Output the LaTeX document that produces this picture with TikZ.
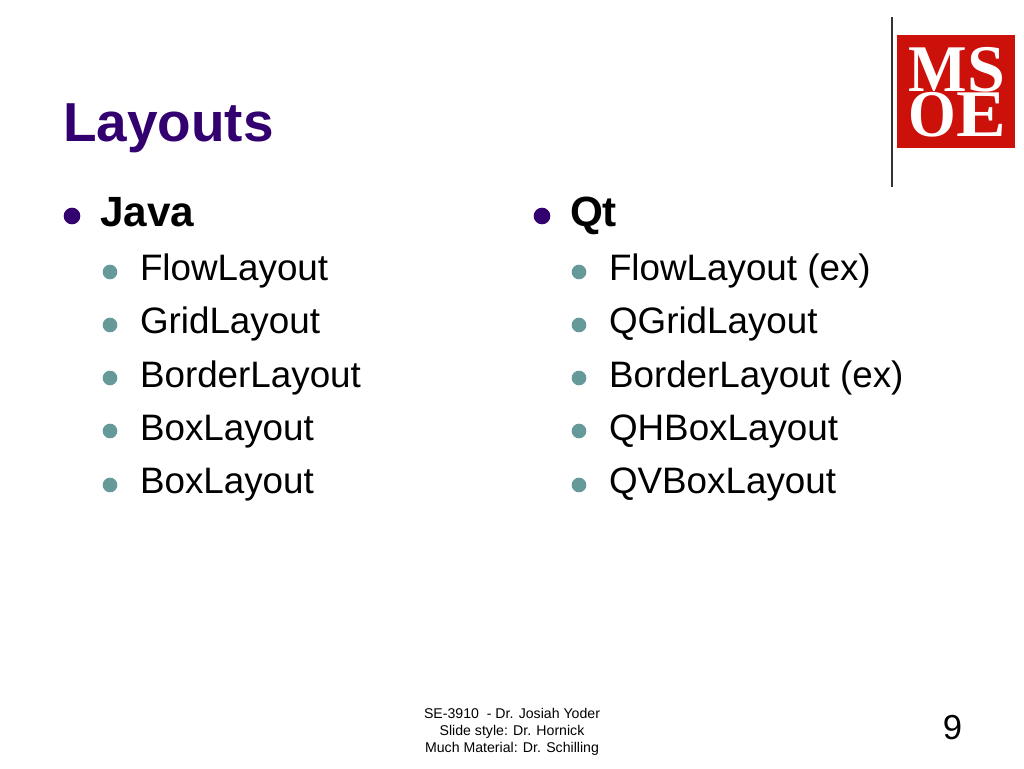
\documentclass[tikz,border=0pt]{standalone}
\usepackage{fontspec}
\setmainfont{Liberation Sans}
\newfontfamily\logofont{Liberation Serif}
\definecolor{titlepurple}{RGB}{51,0,112}
\definecolor{subteal}{RGB}{102,153,153}
\definecolor{msoered}{RGB}{204,16,10}
\tikzset{
  txt/.style={anchor=base west,inner sep=0pt,outer sep=0pt},
  titletext/.style={txt,font=\bfseries\fontsize{41.2}{41.2}\selectfont,text=titlepurple},
  headtext/.style={txt,font=\bfseries\fontsize{31.7}{31.7}\selectfont,text=black},
  subtext/.style={txt,font=\fontsize{27.6}{27.6}\selectfont,text=black},
  headdot/.style={circle,fill=titlepurple,draw=none,minimum size=12.5pt,inner sep=0pt},
  subdot/.style={circle,fill=subteal,draw=none,minimum size=11pt,inner sep=0pt},
  foot/.style={anchor=base,inner sep=0pt,font=\fontsize{10.6}{10.6}\selectfont,text=black},
  logotext/.style={anchor=base,inner sep=0pt,text=white,font=\logofont\bfseries\fontsize{50}{50}\selectfont}
}
\begin{document}
\begin{tikzpicture}[x=0.75pt,y=-0.75pt]
\useasboundingbox (0,0) rectangle (1024,768);
\fill[white] (0,0) rectangle (1024,768);
\node[titletext] (title) at (63,141) {Layouts};
\coordinate (ruletop) at (892,17);
\coordinate (rulebot) at (892,187);
\draw[line width=0.9pt,black!80] (ruletop) -- (rulebot);
\node[fill=msoered,minimum width=88.5pt,minimum height=84.75pt,inner sep=0pt,anchor=north west] (logo) at (897,35) {};
\node[logotext,xscale=0.93] (logoM) at (937.5,91) {M};
\node[logotext,xscale=1.02] (logoS) at (986,91) {S};
\node[logotext,xscale=0.92] (logoO) at (932,136.5) {O};
\node[logotext,xscale=1.12] (logoE) at (981.5,136.5) {E};
% left column
\node[headdot] (d1) at (72,216) {};
\node[headtext] (java) at (100,226) {Java};
\node[subdot] (d11) at (110,272) {};
\node[subtext] (a1) at (140,280) {FlowLayout};
\node[subdot] (d12) at (110,325) {};
\node[subtext] (a2) at (140,333) {GridLayout};
\node[subdot] (d13) at (110,378) {};
\node[subtext] (a3) at (140,387) {BorderLayout};
\node[subdot] (d14) at (110,431) {};
\node[subtext] (a4) at (140,440) {BoxLayout};
\node[subdot] (d15) at (110,485) {};
\node[subtext] (a5) at (140,493) {BoxLayout};
% right column
\node[headdot] (d2) at (542,216) {};
\node[headtext] (qt) at (570,226) {Qt};
\node[subdot] (d21) at (579,272) {};
\node[subtext] (b1) at (609,280) {FlowLayout (ex)};
\node[subdot] (d22) at (579,325) {};
\node[subtext] (b2) at (609,333) {QGridLayout};
\node[subdot] (d23) at (579,378) {};
\node[subtext] (b3) at (609,387) {BorderLayout (ex)};
\node[subdot] (d24) at (579,431) {};
\node[subtext] (b4) at (609,440) {QHBoxLayout};
\node[subdot] (d25) at (579,485) {};
\node[subtext] (b5) at (609,493) {QVBoxLayout};
% footer
\node[foot] (f1) at (512,718.5) {SE-3910\ \ - Dr. Josiah Yoder};
\node[foot] (f2) at (512,735.5) {Slide style: Dr. Hornick};
\node[foot] (f3) at (512,752.5) {Much Material: Dr. Schilling};
\node[anchor=base,inner sep=0pt,font=\fontsize{26}{26}\selectfont] (page) at (952.5,739) {9};
\end{tikzpicture}
\end{document}
